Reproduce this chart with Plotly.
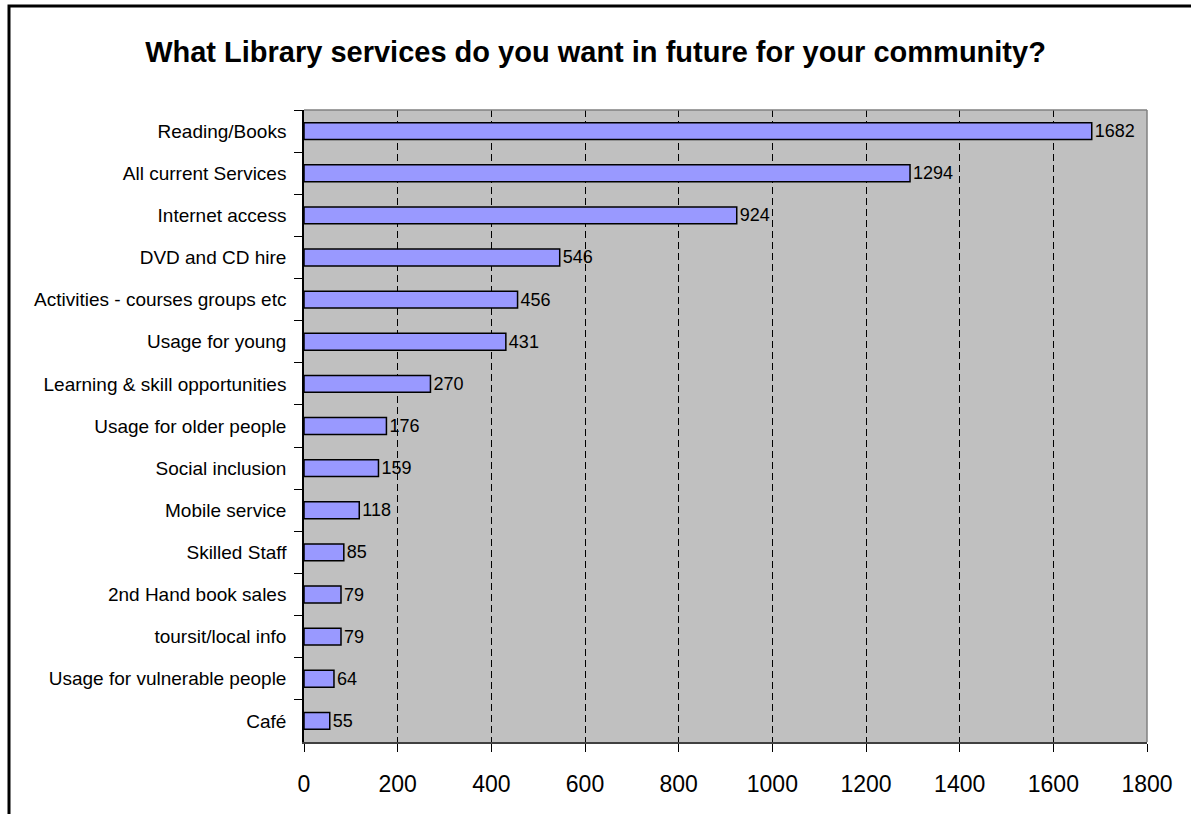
import plotly.graph_objects as go

# Survey results: number of responses per library service
services = [
    "Reading/Books",
    "All current Services",
    "Internet access",
    "DVD and CD hire",
    "Activities - courses groups etc",
    "Usage for young",
    "Learning & skill opportunities",
    "Usage for older people",
    "Social inclusion",
    "Mobile service",
    "Skilled Staff",
    "2nd Hand book sales",
    "toursit/local info",
    "Usage for vulnerable people",
    "Café",
]
responses = [1682, 1294, 924, 546, 456, 431, 270, 176, 159, 118, 85, 79, 79, 64, 55]
x_ticks = [0, 200, 400, 600, 800, 1000, 1200, 1400, 1600, 1800]

W, H = 1191, 814
ML, MR, MT, MB = 304, 44, 110, 72
PW, PH = W - ML - MR, H - MT - MB

FONT = "Arial, 'Liberation Sans', sans-serif"

fig = go.Figure(
    go.Bar(
        x=responses,
        y=services,
        orientation="h",
        marker=dict(color="#9999FF", line=dict(color="black", width=1.5)),
        text=[str(v) for v in responses],
        textposition="outside",
        constraintext="none",
        textfont=dict(family=FONT, size=18, color="black"),
        cliponaxis=False,
    )
)


def px_x(p):
    return (p - ML) / PW


def px_y(p):
    return 1 - (p - MT) / PH


fig.update_layout(
    width=W,
    height=H,
    margin=dict(l=ML, r=MR, t=MT, b=MB),
    paper_bgcolor="white",
    plot_bgcolor="#C0C0C0",
    bargap=0.6,
    showlegend=False,
    font=dict(family=FONT, color="black"),
    title=dict(
        text="<b>What Library services do you want in future for your community?</b>",
        x=0.5,
        xref="container",
        y=1 - 52 / H,
        yref="container",
        xanchor="center",
        yanchor="middle",
        font=dict(family=FONT, size=29, color="black"),
    ),
    xaxis=dict(
        range=[0, 1800],
        tickvals=x_ticks,
        ticktext=[str(t) for t in x_ticks],
        showgrid=True,
        gridcolor="black",
        gridwidth=1,
        griddash="7px,4px",
        zeroline=False,
        showline=True,
        linecolor="#404040",
        linewidth=2,
        ticks="outside",
        ticklen=8,
        tickcolor="black",
        tickfont=dict(family=FONT, size=23, color="black"),
        ticklabelstandoff=12,
    ),
    yaxis=dict(
        autorange="reversed",
        showgrid=False,
        zeroline=False,
        showline=True,
        linecolor="black",
        linewidth=1.5,
        ticks="outside",
        tickson="boundaries",
        ticklen=8,
        tickcolor="black",
        tickfont=dict(family=FONT, size=19, color="black"),
        ticklabelstandoff=12,
    ),
    shapes=[
        # plot area frame (top and right edges)
        dict(
            type="line", xref="paper", yref="paper",
            x0=0, x1=1, y0=1, y1=1,
            line=dict(color="#808080", width=1.5), layer="above",
        ),
        dict(
            type="line", xref="paper", yref="paper",
            x0=1, x1=1, y0=0, y1=1,
            line=dict(color="#808080", width=1.5), layer="above",
        ),
        # outer chart border
        dict(
            type="rect", xref="paper", yref="paper",
            x0=px_x(9), x1=px_x(W + 20), y0=px_y(H + 20), y1=px_y(6),
            line=dict(color="black", width=3), fillcolor="rgba(0,0,0,0)",
            layer="above",
        ),
    ],
)

fig.write_html("out.html")
